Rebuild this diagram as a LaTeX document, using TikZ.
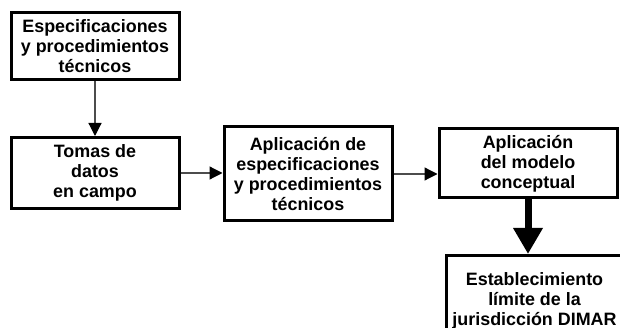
\documentclass[tikz,border=0pt]{standalone}
\usepackage{fontspec}
\setmainfont{Liberation Sans}
\usetikzlibrary{arrows.meta}

\begin{document}
\begin{tikzpicture}[x=1pt, y=-1pt,
		box/.style={draw, line width=3pt, inner sep=0pt, align=center,
			font=\fontsize{17.9}{20}\selectfont\bfseries},
		flow/.style={draw=black!70, line width=1.2pt,
			-{Triangle[length=13pt, width=13pt, color=black]}},
		bigflow/.style={draw, line width=7pt,
			-{Triangle[length=26pt, width=28pt]}}]
			%%%%% START %%%%%
			
			\useasboundingbox (0, 0) rectangle (620, 328);
			\clip (0, 0) rectangle (620, 328);
			
			\node[box, minimum width=168, minimum height=67] (esp) at (95, 46.5)
				{Especificaciones\\y procedimientos\\técnicos};
			\node[box, minimum width=168, minimum height=71] (tomas) at (95, 173)
				{Tomas de\\datos\\en campo};
			\node[box, minimum width=168, minimum height=94] (aplic) at (308, 174)
				{Aplicación de\\especificaciones\\y procedimientos\\técnicos};
			\node[box, minimum width=178, minimum height=69] (modelo) at (528, 163.5)
				{Aplicación\\del modelo\\conceptual};
			\node[box, minimum width=176, minimum height=90, anchor=north west] (limite) at (445, 254)
				{Establecimiento\\límite de la\\jurisdicción DIMAR};
			
			\draw[flow] (esp.south) -- (tomas.north);
			\draw[flow] (tomas.east) -- (tomas.east -| aplic.west);
			\draw[flow] (aplic.east) -- (aplic.east -| modelo.west);
			\draw[bigflow] (modelo.south) -- (modelo.south |- limite.north);
			
			%%%%% END %%%%%
\end{tikzpicture}
\end{document}
